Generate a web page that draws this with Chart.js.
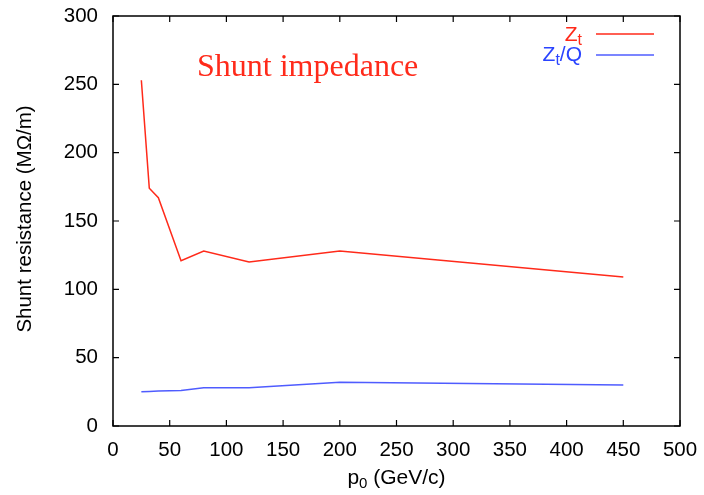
<!DOCTYPE html>
<html>
<head>
<meta charset="utf-8">
<script src="https://cdn.jsdelivr.net/npm/chart.js@4/dist/chart.umd.min.js"></script>
<style>
  html, body { margin: 0; padding: 0; background: #fff; }
  #wrap { width: 704px; height: 495px; }
</style>
</head>
<body>
<div id="wrap"><canvas id="chart"></canvas></div>
<script>
// data
const momentum = [25, 32, 40, 60, 80, 120, 200, 450];
const shuntZt = [253, 174, 167, 121, 128, 120, 128, 109];
const shuntZtQ = [25, 25.3, 25.6, 26, 28, 28, 32, 30];
const xTicks = [0, 50, 100, 150, 200, 250, 300, 350, 400, 450, 500];
const yTicks = [0, 50, 100, 150, 200, 250, 300];

const RED = '#ff2a1a';
const BLUE = '#4f5cff';
const BLUE_TEXT = '#2a44ff';
const FONT = "'Liberation Sans', Arial, sans-serif";

const toPoints = (xs, ys) => xs.map((x, i) => ({ x: x, y: ys[i] }));

// draws "main" + subscript + "tail" starting at x
function subText(ctx, x, y, main, sub, tail, size, subSize, subDrop) {
    ctx.font = size + 'px ' + FONT;
    ctx.fillText(main, x, y);
    x += ctx.measureText(main).width;
    ctx.font = subSize + 'px ' + FONT;
    ctx.fillText(sub, x, y + subDrop);
    x += ctx.measureText(sub).width;
    ctx.font = size + 'px ' + FONT;
    ctx.fillText(tail, x, y);
}

function subWidth(ctx, main, sub, tail, size, subSize) {
    ctx.font = size + 'px ' + FONT;
    let w = ctx.measureText(main).width + ctx.measureText(tail).width;
    ctx.font = subSize + 'px ' + FONT;
    return w + ctx.measureText(sub).width;
}

// inward ticks on all 4 sides + frame, text and legend
const decorPlugin = {
    id: 'decor',
    afterDraw(chart) {
        const { ctx, chartArea: a, scales: { x, y } } = chart;
        ctx.save();
        ctx.strokeStyle = '#000';
        ctx.lineWidth = 1.5;
        ctx.strokeRect(a.left, a.top, a.right - a.left, a.bottom - a.top);
        ctx.lineWidth = 1.2;
        const tl = 6;
        ctx.beginPath();
        xTicks.forEach(v => {
            const px = x.getPixelForValue(v);
            ctx.moveTo(px, a.bottom); ctx.lineTo(px, a.bottom - tl);
            ctx.moveTo(px, a.top); ctx.lineTo(px, a.top + tl);
        });
        yTicks.forEach(v => {
            const py = y.getPixelForValue(v);
            ctx.moveTo(a.left, py); ctx.lineTo(a.left + tl, py);
            ctx.moveTo(a.right, py); ctx.lineTo(a.right - tl, py);
        });
        ctx.stroke();

        // title inside the plot
        ctx.fillStyle = RED;
        ctx.font = "32px 'Liberation Serif', 'Times New Roman', serif";
        ctx.textAlign = 'left';
        ctx.textBaseline = 'alphabetic';
        ctx.fillText('Shunt impedance', 197, 76);

        // legend
        const legend = [
            { main: 'Z', sub: 't', tail: '', color: RED, text: RED, y: 41, ly: 34 },
            { main: 'Z', sub: 't', tail: '/Q', color: BLUE, text: BLUE_TEXT, y: 61, ly: 55 }
        ];
        legend.forEach(item => {
            ctx.fillStyle = item.text;
            const w = subWidth(ctx, item.main, item.sub, item.tail, 21, 16);
            subText(ctx, 582 - w, item.y, item.main, item.sub, item.tail, 21, 16, 4);
            ctx.strokeStyle = item.color;
            ctx.lineWidth = 1.5;
            ctx.beginPath();
            ctx.moveTo(596, item.ly);
            ctx.lineTo(654, item.ly);
            ctx.stroke();
        });

        // axis titles
        ctx.fillStyle = '#000';
        const xMid = (a.left + a.right) / 2;
        const wx = subWidth(ctx, 'p', '0', ' (GeV/c)', 21, 15);
        subText(ctx, xMid - wx / 2, 484, 'p', '0', ' (GeV/c)', 21, 15, 4);

        ctx.translate(31, (a.top + a.bottom) / 2 - 2);
        ctx.rotate(-Math.PI / 2);
        ctx.textAlign = 'center';
        ctx.font = '20.5px ' + FONT;
        ctx.fillText('Shunt resistance (M\u03A9/m)', 0, 0);
        ctx.restore();
    }
};

new Chart(document.getElementById('chart'), {
    type: 'scatter',
    plugins: [decorPlugin],
    data: {
        datasets: [
            {
                label: 'Zt',
                data: toPoints(momentum, shuntZt),
                showLine: true,
                borderColor: RED,
                borderWidth: 1.5,
                pointRadius: 0,
                tension: 0
            },
            {
                label: 'Zt/Q',
                data: toPoints(momentum, shuntZtQ),
                showLine: true,
                borderColor: BLUE,
                borderWidth: 1.5,
                pointRadius: 0,
                tension: 0
            }
        ]
    },
    options: {
        responsive: true,
        maintainAspectRatio: false,
        animation: false,
        layout: { padding: { top: 16, right: 24, left: 0, bottom: 0 } },
        plugins: { legend: { display: false }, tooltip: { enabled: false } },
        scales: {
            x: {
                type: 'linear',
                min: 0, max: 500,
                afterBuildTicks: sc => { sc.ticks = xTicks.map(v => ({ value: v })); },
                afterFit: sc => { sc.height = 69; sc.paddingLeft = 0; sc.paddingRight = 0; },
                grid: { display: false, drawTicks: false },
                border: { display: false },
                ticks: { color: '#000', font: { family: FONT, size: 20.5 }, padding: 12, maxRotation: 0, autoSkip: false }
            },
            y: {
                type: 'linear',
                min: 0, max: 300,
                afterBuildTicks: sc => { sc.ticks = yTicks.map(v => ({ value: v })); },
                afterFit: sc => { sc.width = 113; sc.paddingTop = 0; sc.paddingBottom = 0; },
                grid: { display: false, drawTicks: false },
                border: { display: false },
                ticks: { color: '#000', font: { family: FONT, size: 20.5 }, padding: 15 }
            }
        }
    }
});
</script>
</body>
</html>
